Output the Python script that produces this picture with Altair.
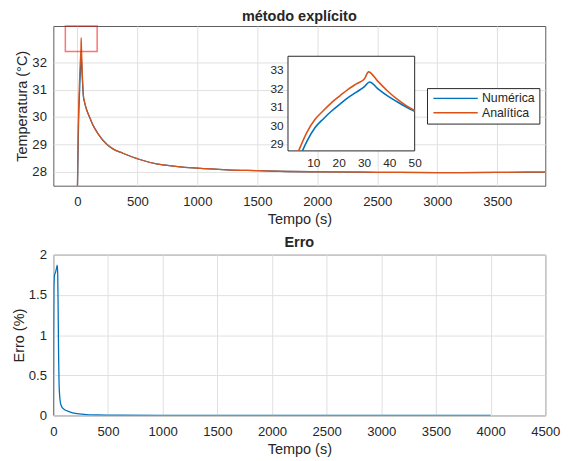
import altair as alt
import pandas as pd

# ---------------- data ----------------
# Analítica (orange)
t_ana = [0, 2, 4.2, 7.4, 10.7, 14, 17.2, 20.5, 23.7, 27, 30.2, 31.8,
         35.4, 39.3, 43.2, 46.5, 50, 60, 75, 100, 130, 170,
         245, 300, 380, 520, 670, 800, 1000, 1250, 1500, 1750,
         2000, 2500, 3000, 3500, 4000]
T_ana = [27.3, 27.9, 28.6, 29.6, 30.32, 30.8, 31.23, 31.6, 31.95, 32.25, 32.53, 32.9,
         32.4, 31.86, 31.4, 31.08, 30.8, 30.55, 30.3, 30.02, 29.7, 29.4,
         29.0, 28.82, 28.67, 28.44, 28.27, 28.2, 28.12, 28.06, 28.03, 28.0,
         27.99, 27.97, 27.96, 27.97, 27.98]

# Numérica (blue)
t_num = [0, 2, 4.2, 5.7, 7.4, 10.7, 14, 17.2, 20.5, 23.7, 27, 30.2, 32.2,
         35.4, 39.3, 43.2, 46.5, 50, 60, 75, 100,
         130, 170, 245, 300, 380, 520, 670, 800, 1000, 1250, 1500, 1750,
         2000, 2500, 3000, 3500, 4000]
T_num = [27.3, 27.6, 28.2, 28.6, 29.1, 29.87, 30.35, 30.77, 31.15, 31.5, 31.8, 32.1, 32.35,
         31.99, 31.59, 31.26, 31.0, 30.76, 30.53, 30.29, 30.01,
         29.7, 29.4, 29.0, 28.82, 28.67, 28.44, 28.27, 28.2, 28.12, 28.06, 28.03, 28.0,
         27.99, 27.97, 27.96, 27.97, 27.98]

# Erro (%)
t_err = [0, 2, 5, 10, 20, 30, 36, 40, 44, 48, 52, 58, 66, 80, 100, 150, 200, 300,
         400, 600, 1000, 1500, 2000, 2500, 3000, 3500, 4000]
e_err = [0, 1.0, 1.6, 1.74, 1.78, 1.84, 1.87, 1.75, 1.3, 0.75, 0.42, 0.24, 0.15, 0.1,
         0.075, 0.045, 0.025, 0.01, 0.005, 0.002, 0.001, 0.0005, 0.0003, 0.0002,
         0.0002, 0.0002, 0.0001]

series = ["Numérica", "Analítica"]
zoom_box_t = [-100, 165]
zoom_box_T = [32.4, 33.33]
inset_t = [0, 50]
inset_T = [28.6, 33.75]

top_xticks = [0, 500, 1000, 1500, 2000, 2500, 3000, 3500]
top_yticks = [28, 29, 30, 31, 32]
inset_xticks = [10, 20, 30, 40, 50]
inset_yticks = [29, 30, 31, 32, 33]
bot_xticks = [0, 500, 1000, 1500, 2000, 2500, 3000, 3500, 4000, 4500]
bot_yticks = [0, 0.5, 1, 1.5, 2]

# ---------------- styling ----------------
W1, H1 = 499, 162
W2, H2 = 499, 163
FONT = "Liberation Sans"
BLUE, ORANGE = "#0072BD", "#D95319"
TXT = "#262626"
GRID = "#e0e0e0"
IN_X0, IN_X1 = 238, 366.5
IN_Y0, IN_Y1 = 126.7, 30.7

df_num = pd.DataFrame({"t": t_num, "T": T_num, "serie": series[0]})
df_ana = pd.DataFrame({"t": t_ana, "T": T_ana, "serie": series[1]})
df_box = pd.DataFrame({"t": [zoom_box_t[0]], "t2": [zoom_box_t[1]],
                       "T": [zoom_box_T[0]], "T2": [zoom_box_T[1]]})
df_inbox = pd.DataFrame({"t": [inset_t[0]], "t2": [inset_t[1]],
                         "T": [inset_T[0]], "T2": [inset_T[1]]})
df_err = pd.DataFrame({"t": t_err, "e": e_err})

color = alt.Color(
    "serie:N",
    scale=alt.Scale(domain=series, range=[BLUE, ORANGE]),
    legend=alt.Legend(
        title=None, orient="none", legendX=379, legendY=63,
        symbolType="M-4,0H4", symbolSize=126.6, symbolStrokeWidth=1.3,
        symbolOffset=18.5, labelOffset=20.25,
        labelFontSize=12.5, labelFont=FONT, labelColor=TXT,
        strokeColor="#262626", fillColor="white", padding=4,
        rowPadding=1.5,
    ),
)

xs_main = alt.Scale(domain=[-200, 3900], nice=False, zero=False)
ys_main = alt.Scale(domain=[27.48, 33.33], nice=False, zero=False)
ax_main_x = alt.Axis(orient="bottom", values=top_xticks, format="d", title="Tempo (s)")
ax_main_y = alt.Axis(orient="left", values=top_yticks, format="d", title="Temperatura (°C)")

x_main = alt.X("t:Q", scale=xs_main, axis=ax_main_x)
y_main = alt.Y("T:Q", scale=ys_main, axis=ax_main_y)

main_num = alt.Chart(df_num).mark_line(clip=True, strokeWidth=1.3, interpolate="monotone").encode(
    x=x_main, y=y_main, color=color)
main_ana = alt.Chart(df_ana).mark_line(clip=True, strokeWidth=1.3, interpolate="monotone").encode(
    x=x_main, y=y_main, color=color)
zoom_rect = alt.Chart(df_box).mark_rect(
    fill="white", fillOpacity=0, stroke="#ff0000", strokeOpacity=0.55, strokeWidth=1.5
).encode(x=x_main, x2="t2", y=y_main, y2="T2")

main_layer = alt.layer(main_num, main_ana, zoom_rect)

xs_in = alt.Scale(domain=inset_t, range=[IN_X0, IN_X1], nice=False, zero=False)
ys_in = alt.Scale(domain=inset_T, range=[IN_Y0, IN_Y1], nice=False, zero=False)
ax_in_x = alt.Axis(orient="bottom", offset=-(H1 - IN_Y0), values=inset_xticks, format="d",
                   grid=False, domain=False, ticks=False, labelPadding=7, title=None,
                   labelFontSize=12, labelFlush=False)
ax_in_y = alt.Axis(orient="left", offset=-IN_X0, values=inset_yticks, format="d",
                   grid=False, domain=False, ticks=False, labelPadding=5, title=None,
                   labelFontSize=12, labelFlush=False)
x_in = alt.X("t:Q", scale=xs_in, axis=ax_in_x)
y_in = alt.Y("T:Q", scale=ys_in, axis=ax_in_y)

inset_bg = alt.Chart(df_inbox).mark_rect(fill="white", stroke="#262626", strokeWidth=1).encode(
    x=x_in, x2="t2", y=y_in, y2="T2")
flt = "datum.t <= 50 && datum.T >= 28.59"
inset_num = alt.Chart(df_num).transform_filter(flt).mark_line(
    strokeWidth=1.6, interpolate="monotone").encode(x=x_in, y=y_in, color=color)
inset_ana = alt.Chart(df_ana).transform_filter(flt).mark_line(
    strokeWidth=1.6, interpolate="monotone").encode(x=x_in, y=y_in, color=color)

inset_layer = alt.layer(inset_bg, inset_num, inset_ana)

top = alt.layer(main_layer, inset_layer).resolve_scale(
    x="independent", y="independent"
).properties(
    width=W1, height=H1,
    title=alt.TitleParams("método explícito", font=FONT, fontSize=14.67, fontWeight="bold",
                          color=TXT, anchor="middle", offset=2, frame="group"),
)

bottom = alt.Chart(df_err).mark_line(
    color=BLUE, strokeWidth=1.3, interpolate="monotone", clip=True
).encode(
    x=alt.X("t:Q", scale=alt.Scale(domain=[0, 4500], nice=False, zero=False),
            axis=alt.Axis(orient="bottom", values=bot_xticks, format="d", title="Tempo (s)")),
    y=alt.Y("e:Q", scale=alt.Scale(domain=[0, 2], nice=False),
            axis=alt.Axis(orient="left", values=bot_yticks, format="~g", title="Erro (%)")),
).properties(
    width=W2, height=H2,
    title=alt.TitleParams("Erro", font=FONT, fontSize=14.67, fontWeight="bold",
                          color=TXT, anchor="middle", offset=-1.5, frame="group"),
)

chart = alt.vconcat(top, bottom, spacing=7).resolve_scale(color="independent").properties(
    padding={"left": 2, "top": -3, "right": 5, "bottom": 2}
).configure_view(
    stroke="#5a5a5a", strokeWidth=1
).configure_axis(
    labelFont=FONT, titleFont=FONT, labelFontSize=13.33, titleFontSize=14.67,
    labelColor=TXT, titleColor=TXT, titleFontWeight="normal",
    gridColor=GRID, gridWidth=1, domain=False, ticks=False, tickSize=0,
    labelFlush=False,
).configure_axisX(
    labelPadding=9.5, titlePadding=4
).configure_axisY(
    labelPadding=7, titlePadding=2
)

chart.save("out.html", embed_options={"renderer": "svg", "actions": False})
